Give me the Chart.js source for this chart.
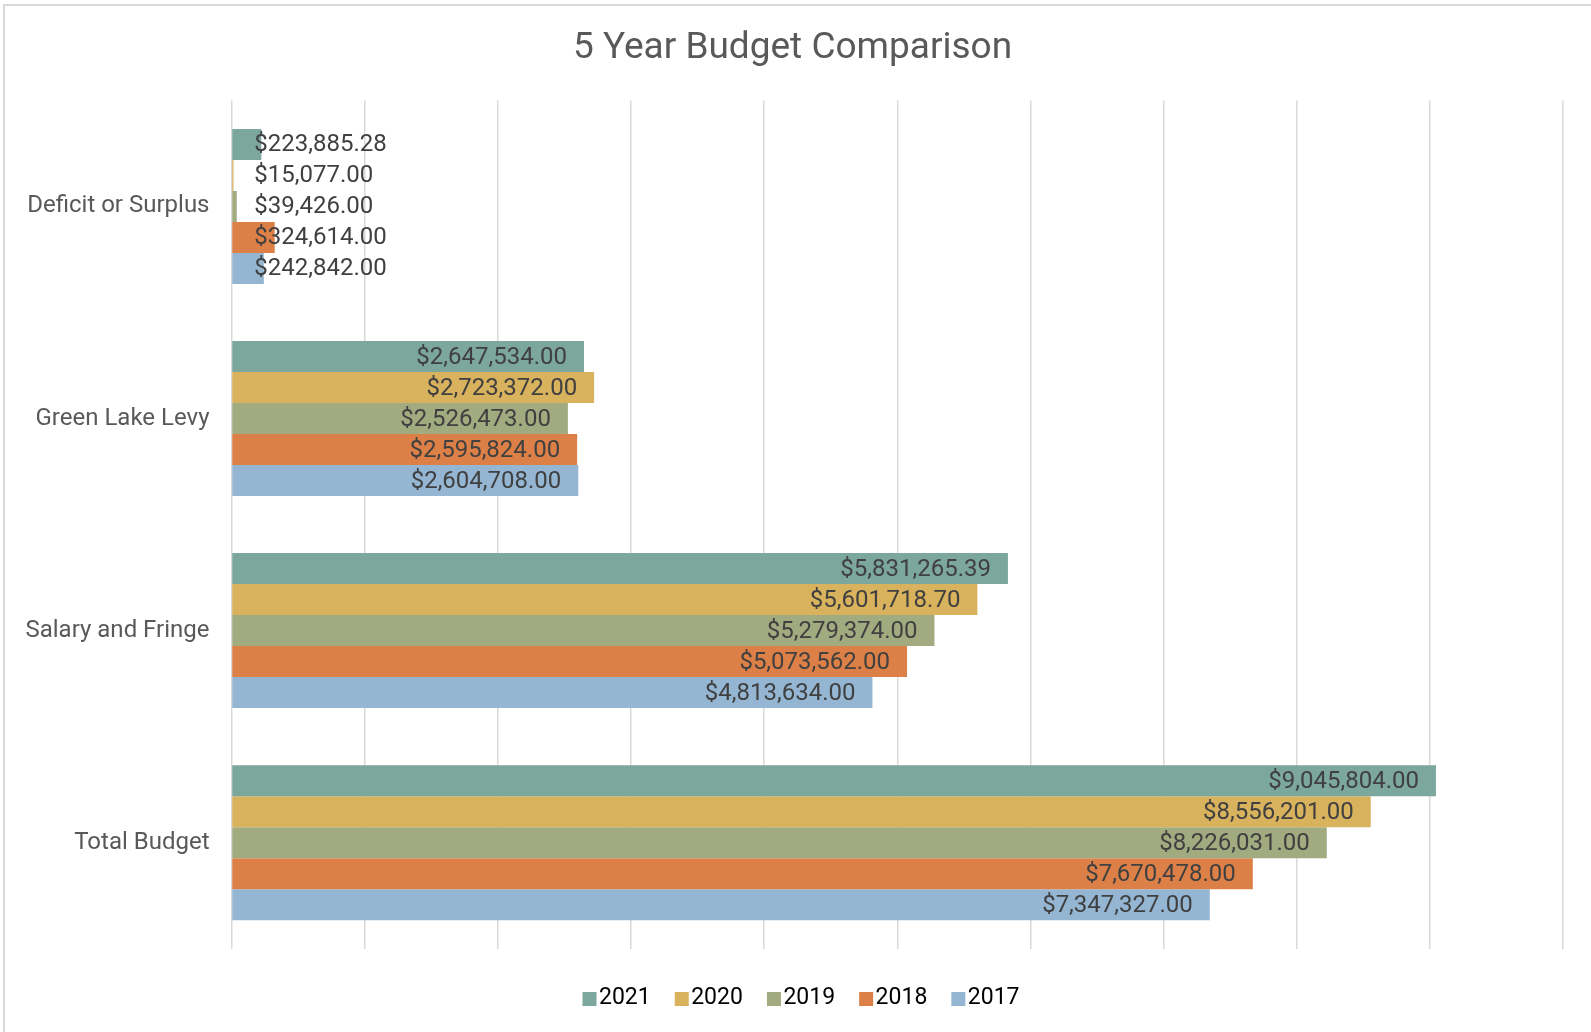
<!DOCTYPE html>
<html>
<head>
<meta charset="utf-8">
<script src="https://cdn.jsdelivr.net/npm/chart.js@4/dist/chart.umd.min.js"></script>
<style>
  html, body { margin: 0; padding: 0; background: #ffffff; overflow: hidden; }
  #frame { position: absolute; left: 3px; top: 4px; width: 1620px; height: 1060px;
           border-left: 2px solid #d9d9d9; border-top: 2px solid #d9d9d9; }
  #wrap { position: absolute; left: 0; top: 0; width: 1591px; height: 1032px; }
</style>
</head>
<body>
<div id="frame"></div>
<div id="wrap"><canvas id="c" width="1591" height="1032"></canvas></div>
<script>
// ---- data ----
const title = "5 Year Budget Comparison";
const categories = ["Deficit or Surplus", "Green Lake Levy", "Salary and Fringe", "Total Budget"];
const years = ["2021", "2020", "2019", "2018", "2017"];
const values2021 = [223885.28, 2647534.00, 5831265.39, 9045804.00];
const values2020 = [15077.00, 2723372.00, 5601718.70, 8556201.00];
const values2019 = [39426.00, 2526473.00, 5279374.00, 8226031.00];
const values2018 = [324614.00, 2595824.00, 5073562.00, 7670478.00];
const values2017 = [242842.00, 2604708.00, 4813634.00, 7347327.00];
const xMin = 0, xMax = 10000000, xStep = 1000000;

// ---- styles ----
const seriesValues = [values2021, values2020, values2019, values2018, values2017];
const seriesColors = ["#7ba79d", "#d8b25c", "#a2ab80", "#dd8047", "#94b6d2"];
const FONT = "Roboto";

function money(v) {
  return "$" + v.toLocaleString("en-US", { minimumFractionDigits: 2, maximumFractionDigits: 2 });
}

// legend swatch: canvas drawn centred at item x + 11; square placed so it sits just before the text
function legendSwatch(color) {
  const c = document.createElement("canvas");
  c.width = 50; c.height = 14;
  const g = c.getContext("2d");
  g.fillStyle = color;
  g.fillRect(31, 0, 14, 14);
  return c;
}

const labelPlugin = {
  id: "barLabels",
  afterDatasetsDraw(chart) {
    const ctx = chart.ctx;
    ctx.save();
    ctx.font = "24px " + FONT;
    ctx.fillStyle = "#404040";
    ctx.textBaseline = "middle";
    chart.data.datasets.forEach((ds, di) => {
      const meta = chart.getDatasetMeta(di);
      meta.data.forEach((bar, i) => {
        const txt = money(ds.data[i]);
        const w = ctx.measureText(txt).width;
        const len = bar.x - bar.base;
        if (len > w + 30) {
          ctx.textAlign = "right";
          ctx.fillText(txt, bar.x - 17, bar.y + 1);
        } else {
          ctx.textAlign = "left";
          ctx.fillText(txt, bar.base + 22, bar.y + 1);
        }
      });
    });
    ctx.restore();
  }
};

const datasets = years.map((y, i) => ({
  label: y,
  data: seriesValues[i],
  backgroundColor: seriesColors[i],
  borderWidth: 0,
  categoryPercentage: 0.731,
  barPercentage: 1.0
}));

new Chart(document.getElementById("c"), {
  type: "bar",
  data: { labels: categories, datasets: datasets },
  plugins: [labelPlugin],
  options: {
    indexAxis: "y",
    responsive: false,
    animation: false,
    layout: { padding: { left: 22, right: 28, top: 0, bottom: 12 } },
    plugins: {
      tooltip: { enabled: false },
      title: {
        display: true,
        text: title,
        color: "#595959",
        font: { family: FONT, size: 37, weight: "normal", lineHeight: 1.2 },
        padding: { top: 26.9, bottom: 29.1 }
      },
      legend: {
        display: true,
        position: "bottom",
        labels: {
          color: "#595959",
          font: { family: FONT, size: 23 },
          usePointStyle: true,
          pointStyleWidth: 22,
          boxHeight: 14,
          padding: 7,
          generateLabels(chart) {
            return chart.data.datasets.map((ds, i) => ({
              text: ds.label,
              fillStyle: ds.backgroundColor,
              strokeStyle: ds.backgroundColor,
              lineWidth: 0,
              pointStyle: legendSwatch(ds.backgroundColor),
              datasetIndex: i,
              hidden: false
            }));
          }
        }
      }
    },
    scales: {
      x: {
        type: "linear",
        min: xMin,
        max: xMax,
        ticks: { display: false, stepSize: xStep },
        grid: { color: "#d9d9d9", lineWidth: 1.5, drawTicks: false },
        border: { display: false },
        afterFit(scale) { scale.height = 31.3; }
      },
      y: {
        type: "category",
        ticks: { color: "#595959", font: { family: FONT, size: 24 }, padding: 22 },
        grid: { display: false, drawTicks: false },
        border: { display: false },
        afterFit(scale) { scale.width = 209.5; }
      }
    }
  }
});
</script>
</body>
</html>
